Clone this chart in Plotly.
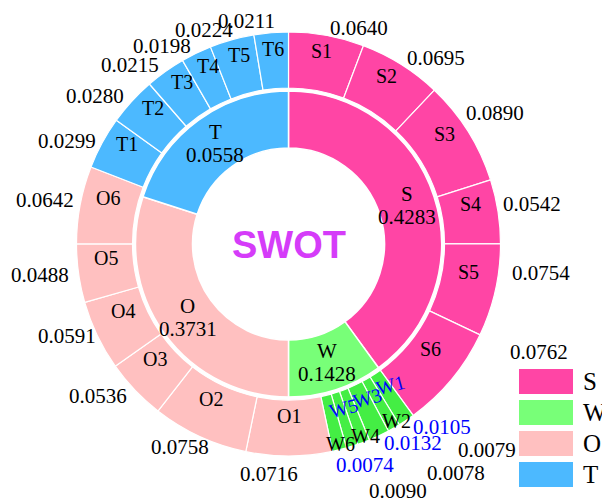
import math
import plotly.graph_objects as go

# ---------------- data ----------------
groups = ["S", "W", "O", "T"]
group_value_text = [0.4283, 0.1428, 0.3731, 0.0558]      # labels printed on the inner ring
group_share = [0.40, 0.10, 0.30, 0.20]                   # inner-ring slice sizes

S_values = [0.0640, 0.0695, 0.0890, 0.0542, 0.0754, 0.0762]
W_values = [0.0105, 0.0079, 0.0132, 0.0078, 0.0074, 0.0090]
O_values = [0.0716, 0.0758, 0.0536, 0.0591, 0.0488, 0.0642]
T_values = [0.0299, 0.0280, 0.0215, 0.0198, 0.0224, 0.0211]

# outer-ring slice sizes in degrees
S_share = [20.7, 22.8, 28.9, 17.6, 25.4, 28.6]
W_share = [4.5, 3.4, 5.7, 3.35, 3.2, 3.9]
O_share = [23.6, 26.4, 16.8, 19.2, 16.0, 21.3]
T_share = [14.4, 13.3, 11.0, 8.4, 12.2, 9.4]

# ---------------- style ----------------
inner_colors = {"S": "#FF45A5", "W": "#78FF78", "O": "#FFC0C0", "T": "#4CB9FF"}
outer_colors = {"S": "#FF45A5", "W": "#44EE44", "O": "#FFC0C0", "T": "#4CB9FF"}
SERIF = "Liberation Serif, Times New Roman, serif"

WIDTH, HEIGHT = 602, 504
CX, CY = 288.5, 244.0
R_OUT, R_OUT_IN = 212.0, 156.0
R_IN, R_HOLE = 153.0, 96.0

# hand-placed label offsets in the original (px, +x right, +y down)
value_nudge = {"S3": (-11, -14), "S4": (-5, -6), "S5": (7, -19), "S6": (50, -32),
               "W2": (58, 15), "W4": (59, 23), "W6": (26, 33), "W5": (-21, 11),
               "O1": (11, 10), "O2": (15, 3), "O4": (8, -3), "O6": (4, -3),
               "T1": (3, 2), "T5": (5, -2), "T6": (7, -4)}

outer_vals = {"S": S_values, "W": W_values, "O": O_values, "T": T_values}
outer_share = {"S": S_share, "W": W_share, "O": O_share, "T": T_share}

sub_names, sub_vals, sub_sizes, sub_cols, sub_group = [], [], [], [], []
for g in groups:
    for i, (v, s) in enumerate(zip(outer_vals[g], outer_share[g])):
        sub_names.append(f"{g}{i+1}")
        sub_vals.append(v)
        sub_sizes.append(s)
        sub_cols.append(outer_colors[g])
        sub_group.append((g, i + 1))


def dom(r):
    return dict(x=[(CX - r) / WIDTH, (CX + r) / WIDTH],
                y=[1 - (CY + r) / HEIGHT, 1 - (CY - r) / HEIGHT])


def paper(theta, r, dx=0.0, dy=0.0):
    t = math.radians(theta)
    px = CX + r * math.sin(t) + dx
    py = CY - r * math.cos(t) + dy
    return px / WIDTH, 1 - py / HEIGHT


def label(x, y, text, size, color="black", xanchor="center", angle=0, family=SERIF):
    return dict(x=x, y=y, text=text, showarrow=False, xref="paper", yref="paper",
                xanchor=xanchor, yanchor="middle", textangle=angle,
                font=dict(family=family, size=size, color=color))


fig = go.Figure()
fig.add_trace(go.Pie(
    values=sub_sizes, labels=sub_names, sort=False, direction="clockwise", rotation=0,
    hole=R_OUT_IN / R_OUT, domain=dom(R_OUT), textinfo="none", showlegend=False,
    marker=dict(colors=sub_cols, line=dict(color="white", width=1.2)),
))
fig.add_trace(go.Pie(
    values=group_share, labels=groups, sort=False, direction="clockwise", rotation=0,
    hole=R_HOLE / R_IN, domain=dom(R_IN), textinfo="none", showlegend=False,
    marker=dict(colors=[inner_colors[g] for g in groups], line=dict(color="white", width=1.5)),
))

ann = []
# inner ring labels
tot = sum(group_share)
cum = 0.0
r_mid_in = (R_IN + R_HOLE) / 2
for g, s, v in zip(groups, group_share, group_value_text):
    mid = (cum + s / 2) / tot * 360
    cum += s
    x, y = paper(mid, r_mid_in, dy=-11.5)
    ann.append(label(x, y, g, 21))
    x, y = paper(mid, r_mid_in, dy=11.5)
    ann.append(label(x, y, f"{v:.4f}", 21))

# outer ring labels
tot = sum(sub_sizes)
cum = 0.0
for name, v, s, (g, k) in zip(sub_names, sub_vals, sub_sizes, sub_group):
    mid = (cum + s / 2) / tot * 360
    cum += s
    odd_w = (g == "W" and k % 2 == 1)
    even_w = (g == "W" and k % 2 == 0)
    col = "blue" if odd_w else "black"
    r_name = 218 if even_w else 184
    x, y = paper(mid, r_name, dy=-12)
    ann.append(label(x, y, name, 20, col, angle=-15 if odd_w else 0))
    dx, dy = value_nudge.get(name, (0, 0))
    x, y = paper(mid, 220, dx=dx, dy=dy)
    ann.append(label(x, y, f"{v:.4f}", 21, col, xanchor="left" if mid < 175 else "right"))

# centre title
ann.append(label(CX / WIDTH, 1 - (CY + 1) / HEIGHT, "<b>SWOT</b>", 38, "#D53CF9",
                 family="Liberation Sans, Arial, sans-serif"))

# legend (custom, rectangular patches)
shapes = []
LX0, LX1, LTOP, LH, LSTEP = 519, 573, 369, 25, 31
for i, g in enumerate(groups):
    top = LTOP + i * LSTEP
    shapes.append(dict(type="rect", xref="paper", yref="paper",
                       x0=LX0 / WIDTH, x1=LX1 / WIDTH,
                       y0=1 - (top + LH) / HEIGHT, y1=1 - top / HEIGHT,
                       fillcolor=inner_colors[g], line=dict(width=0)))
    ann.append(label(581 / WIDTH, 1 - (top + LH / 2) / HEIGHT, g, 25, xanchor="left"))

fig.update_layout(
    width=WIDTH, height=HEIGHT,
    margin=dict(l=0, r=0, t=0, b=0),
    paper_bgcolor="white", plot_bgcolor="white",
    annotations=ann, shapes=shapes, showlegend=False,
)

fig.write_html("out.html", config={"displayModeBar": False},
               post_script="document.body.style.margin='0px';document.body.style.overflow='hidden';")
